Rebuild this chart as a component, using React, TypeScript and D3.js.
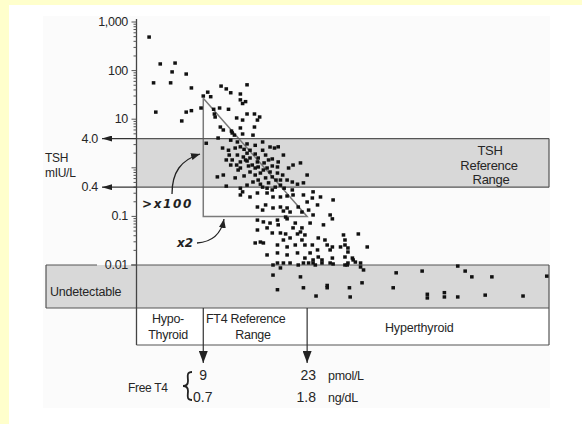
import React from 'react';
import * as d3 from 'd3';

const W = 582;
const H = 424;

// Patient values: [Free T4 (pmol/L), TSH (mIU/L)]
const pointsHigh: [number, number][] = [
  [1.7, 490], [3.2, 137], [5.2, 143], [4.8, 94], [6.7, 85], [2.3, 56], [4.6, 56], [7.4, 44],
  [2.6, 14], [6.7, 14], [7.4, 15], [6.1, 9.2], [9.0, 30], [9.6, 36], [10.0, 29], [8.7, 17],
  [11.4, 48], [12.1, 42], [12.7, 35], [14.0, 33], [14.9, 51], [14.0, 25], [14.7, 23], [14.3, 21],
  [10.4, 16], [11.2, 17], [12.4, 16], [10.5, 12.8], [10.6, 11.1], [13.5, 10.6], [14.3, 9.6],
  [14.9, 12.8], [15.9, 12.8], [16.3, 9.6], [16.6, 11.1], [11.3, 6.9], [11.7, 6.0], [12.8, 5.7],
  [14.0, 6.6], [15.9, 6.9], [13.2, 4.7], [12.9, 5.2],
];

const pointsEuthyroid: [number, number][] = [
  [11.0, 4.1], [9.4, 3.2], [13.6, 3.4], [14.9, 3.1], [16.0, 2.9], [11.6, 2.55], [12.4, 2.3],
  [13.3, 2.55], [14.0, 2.7], [14.5, 2.4], [18.6, 2.55], [19.1, 2.7], [12.5, 1.83], [13.6, 1.83],
  [14.4, 1.67], [14.9, 2.0], [16.0, 1.92], [17.4, 1.83], [17.0, 2.3], [18.3, 1.52], [19.1, 1.32],
  [20.5, 0.99], [21.1, 1.14], [22.1, 1.26], [12.1, 1.45], [12.9, 1.45], [14.0, 1.32], [14.9, 1.38],
  [15.6, 1.14], [16.4, 1.04], [17.2, 1.26], [17.6, 0.99], [18.0, 0.82], [19.0, 0.78], [19.7, 0.71],
  [20.3, 0.56], [21.0, 0.51], [21.7, 0.46], [14.0, 0.99], [15.3, 0.82], [16.0, 0.71], [16.7, 0.78],
  [17.4, 0.62], [18.3, 0.65], [10.9, 0.65], [11.7, 0.71], [12.1, 0.42], [14.0, 0.38], [14.9, 0.44],
  [15.7, 0.51], [16.7, 0.46], [17.6, 0.38], [18.7, 0.40], [19.4, 0.44], [19.9, 0.38], [21.0, 0.35],
  [23.8, 0.32], [14.3, 4.96], [15.7, 4.7], [12.7, 3.7], [17.0, 3.4], [19.8, 1.83], [16.4, 1.59],
  [19.0, 1.04], [23.0, 0.71], [16.0, 0.99], [17.1, 0.90], [19.4, 0.56], [22.5, 0.49], [18.3, 0.35],
  [13.7, 0.90], [13.3, 0.62], [14.3, 0.32], [17.0, 0.40], [14.7, 1.45], [15.3, 1.59], [16.3, 1.32],
  [17.8, 1.45], [15.1, 1.09], [18.3, 1.09], [14.5, 0.68], [16.4, 0.56], [17.8, 0.49], [18.8, 0.56],
  [12.7, 1.14], [13.5, 1.14], [15.3, 2.3], [18.0, 2.68],
];

const pointsSuppressed: [number, number][] = [
  [14.0, 0.276], [15.3, 0.251], [16.3, 0.303], [17.6, 0.303], [18.4, 0.251], [19.4, 0.251],
  [20.3, 0.263], [21.1, 0.276], [22.5, 0.276], [16.3, 0.156], [17.4, 0.172], [18.4, 0.149],
  [19.4, 0.156], [20.3, 0.149], [21.8, 0.156], [23.0, 0.198], [24.8, 0.251], [16.3, 0.084],
  [17.1, 0.077], [18.0, 0.073], [19.0, 0.084], [20.3, 0.089], [21.4, 0.073], [23.4, 0.073],
  [25.2, 0.067], [26.1, 0.107], [23.8, 0.107], [17.6, 0.058], [21.1, 0.058], [26.5, 0.218],
  [23.7, 0.239], [23.2, 0.135], [24.4, 0.172], [26.4, 0.089], [20.7, 0.123], [22.3, 0.123],
  [19.8, 0.129], [17.0, 0.135], [20.1, 0.097], [22.3, 0.058], [19.1, 0.067],
  [16.3, 0.0525], [16.0, 0.0284], [16.7, 0.0297], [18.3, 0.0456], [19.4, 0.0456], [20.1, 0.0435],
  [21.7, 0.0435], [22.7, 0.0415], [24.5, 0.036], [25.4, 0.0327], [27.9, 0.0415], [29.9, 0.0435],
  [17.1, 0.0284], [19.0, 0.0258], [20.3, 0.0235], [21.4, 0.0258], [22.7, 0.0258], [24.4, 0.0204],
  [25.7, 0.0258], [26.4, 0.0235], [28.1, 0.0258], [28.5, 0.0224], [31.1, 0.0235], [17.6, 0.0161],
  [19.0, 0.0177], [20.3, 0.0161], [21.7, 0.0177], [22.7, 0.0139], [23.8, 0.0127], [25.0, 0.0127],
  [26.4, 0.0139], [28.1, 0.0146], [29.1, 0.0139], [19.0, 0.011], [19.8, 0.011], [20.7, 0.011],
  [21.8, 0.01], [22.5, 0.011], [23.8, 0.011], [25.0, 0.011], [26.1, 0.011], [28.5, 0.011],
  [29.5, 0.0115], [30.2, 0.0091], [30.6, 0.0079], [22.1, 0.0478], [19.8, 0.0327], [20.7, 0.036],
  [22.3, 0.0327], [23.7, 0.0258], [23.4, 0.0177], [24.5, 0.0146], [27.5, 0.0235], [26.1, 0.0204],
  [23.2, 0.011], [24.1, 0.01], [26.5, 0.0105], [28.1, 0.01], [28.1, 0.0327], [28.5, 0.0185],
  [29.2, 0.0127], [30.2, 0.011], [28.4, 0.01],
];

const pointsUndetectable: [number, number][] = [
  [18.4, 0.01], [19.4, 0.0087], [18.4, 0.0062], [19.0, 0.0031], [22.1, 0.0057], [22.5, 0.0034],
  [24.2, 0.0023], [25.7, 0.0034], [25.7, 0.0038], [28.7, 0.0034], [28.8, 0.0022], [30.4, 0.0043],
  [34.6, 0.0034], [35.0, 0.0069], [38.5, 0.0075], [39.2, 0.0025], [39.2, 0.0021], [41.5, 0.0027],
  [41.5, 0.0022], [43.3, 0.0095], [44.3, 0.0075], [45.2, 0.0057], [43.3, 0.0022], [47.0, 0.0024],
  [47.9, 0.0057], [52.1, 0.0023], [55.3, 0.0059],
];

const tshTicks = [1000, 100, 10, 0.1, 0.01];
const tshTickLabels = ['1,000', '100', '10', '0.1', '0.01'];
const tshReference = [0.4, 4.0];
const tshReferenceLabels = ['0.4', '4.0'];
const ft4Reference = [9, 23];
const ft4ReferenceNgdl = ['0.7', '1.8'];
const triangleFt4 = [9, 23];
const triangleTsh = [27, 0.1];

const FONT = '"Liberation Sans", Arial, Helvetica, sans-serif';
const INK = '#262626';

export default function App() {
  const x = d3.scaleLinear().domain([0, 55.6]).range([136.5, 549]);
  const y = d3.scaleLog().domain([0.01, 1000]).range([265, 22]);

  const axisX = x(0);
  const right = x(55.6);
  const undetTop = y(0.01);
  const undetBottom = 308;
  const boxBottom = 345;
  const undetLeft = 46;
  const allTicks = y.ticks();

  const points = [...pointsHigh, ...pointsEuthyroid, ...pointsSuppressed, ...pointsUndetectable];

  const [tshLo, tshHi] = tshReference;
  const triPath = d3.line()([
    [x(triangleFt4[0]), y(triangleTsh[0])],
    [x(triangleFt4[0]), y(triangleTsh[1])],
    [x(triangleFt4[1]), y(triangleTsh[1])],
    [x(triangleFt4[0]), y(triangleTsh[0])],
  ]);

  return (
    <div style={{ position: 'absolute', left: 0, top: 0 }}>
      <svg width={W} height={H} style={{ display: 'block' }} fontFamily={FONT}>
        <defs>
          <marker id="arrowLeft" viewBox="0 0 10 6" refX="10" refY="3" markerWidth="10" markerHeight="6"
            markerUnits="userSpaceOnUse" orient="auto">
            <path d="M0,0L10,3L0,6z" fill="#222" />
          </marker>
          <marker id="arrowDown" viewBox="0 0 12 9" refX="12" refY="4.5" markerWidth="12" markerHeight="9"
            markerUnits="userSpaceOnUse" orient="auto">
            <path d="M0,0L12,4.5L0,9z" fill="#222" />
          </marker>
          <marker id="arrowSmall" viewBox="0 0 9 7" refX="9" refY="3.5" markerWidth="9" markerHeight="7"
            markerUnits="userSpaceOnUse" orient="auto">
            <path d="M0,0L9,3.5L0,7z" fill="#222" />
          </marker>
        </defs>

        {/* page background */}
        <rect x={0} y={0} width={W} height={H} fill="#ffffcc" />
        <rect x={9} y={5} width={W - 9} height={H - 5} fill="#ffffff" />
        <rect x={43} y={16} width={507} height={392} fill="#fbfbfb" />

        {/* TSH reference band */}
        <rect x={axisX} y={y(tshHi)} width={right - axisX} height={y(tshLo) - y(tshHi)} fill="#d8d8d8" />
        {/* undetectable band */}
        <rect x={undetLeft} y={undetTop} width={right - undetLeft} height={undetBottom - undetTop} fill="#d8d8d8" />
        {/* lower classification box */}
        <rect x={axisX} y={undetBottom} width={right - axisX} height={boxBottom - undetBottom} fill="#ffffff" />

        {/* slope triangle */}
        <path d={triPath ?? ''} fill="none" stroke="#7a7a7a" strokeWidth={1.5} />

        {/* band borders */}
        {tshReference.map((v) => (
          <line key={`b${v}`} x1={axisX} x2={right} y1={y(v)} y2={y(v)} stroke="#555" strokeWidth={1.2} />
        ))}
        <line x1={undetLeft} x2={97} y1={undetTop} y2={undetTop} stroke="#555" strokeWidth={1.2} />
        <line x1={131} x2={right} y1={undetTop} y2={undetTop} stroke="#555" strokeWidth={1.2} />
        <line x1={undetLeft} x2={undetLeft} y1={undetTop} y2={undetBottom} stroke="#555" strokeWidth={1.2} />
        <line x1={undetLeft} x2={right} y1={undetBottom} y2={undetBottom} stroke="#555" strokeWidth={1.2} />
        <line x1={right} x2={right} y1={y(tshHi)} y2={y(tshLo)} stroke="#555" strokeWidth={1.2} />
        <line x1={right} x2={right} y1={undetTop} y2={boxBottom} stroke="#555" strokeWidth={1.2} />
        <line x1={axisX} x2={right} y1={boxBottom} y2={boxBottom} stroke="#555" strokeWidth={1.2} />

        {/* y axis */}
        <line x1={axisX} x2={axisX} y1={19} y2={boxBottom} stroke="#444" strokeWidth={1.3} />
        {allTicks.map((t, i) => {
          const major = Math.abs(Math.log10(t) - Math.round(Math.log10(t))) < 1e-9;
          return (
            <line key={`t${i}`} x1={axisX - (major ? 5 : 3)} x2={axisX} y1={y(t)} y2={y(t)}
              stroke="#555" strokeWidth={1} />
          );
        })}
        {tshTicks.map((t, i) => (
          <text key={`l${t}`} x={128} y={y(t)} textAnchor="end" dominantBaseline="central"
            fontSize={12.5} fill={INK} letterSpacing={-0.3}>{tshTickLabels[i]}</text>
        ))}

        {/* reference limit arrows */}
        {tshReference.map((v, i) => (
          <g key={`r${v}`}>
            <line x1={axisX} x2={102} y1={y(v)} y2={y(v)} stroke="#333" strokeWidth={1.2}
              markerEnd="url(#arrowLeft)" />
            <text x={98} y={y(v)} textAnchor="end" dominantBaseline="central" fontSize={12.5}
              fill={INK} letterSpacing={-0.3}>{tshReferenceLabels[i]}</text>
          </g>
        ))}

        {/* FT4 reference limits */}
        {ft4Reference.map((v) => (
          <line key={`f${v}`} x1={x(v)} x2={x(v)} y1={undetBottom} y2={363} stroke="#333" strokeWidth={1.2}
            markerEnd="url(#arrowDown)" />
        ))}

        {/* patient points */}
        {points.map(([f, t], i) => (
          <rect key={`p${i}`} x={x(f) - 1.8} y={y(t) - 1.7} width={3.6} height={3.4} fill="#111" />
        ))}

        {/* curved annotation arrows */}
        <path d="M172,194 C172,172 181,160 200,154" fill="none" stroke="#222" strokeWidth={1.3}
          markerEnd="url(#arrowSmall)" />
        <path d="M197,243 C211,242 221,235 224,219" fill="none" stroke="#222" strokeWidth={1.3}
          markerEnd="url(#arrowSmall)" />
        <text x={142} y={208} fontSize={12} fontWeight="bold" fontStyle="italic" fill="#222"
          fontFamily='"DejaVu Sans", sans-serif' letterSpacing={1.6}>&gt;x100</text>
        <text x={177} y={247} fontSize={12} fontWeight="bold" fontStyle="italic" fill="#222"
          fontFamily='"DejaVu Sans", sans-serif'>x2</text>

        {/* axis title */}
        <text x={45} y={162} fontSize={12} fill={INK} letterSpacing={-0.3}>TSH</text>
        <text x={45} y={177} fontSize={12} fill={INK} letterSpacing={-0.3}>mIU/L</text>

        {/* band labels */}
        <text x={490} y={155} textAnchor="middle" fontSize={13} fill={INK} letterSpacing={-0.3}>TSH</text>
        <text x={489} y={170} textAnchor="middle" fontSize={13} fill={INK} letterSpacing={-0.3}>Reference</text>
        <text x={491} y={184} textAnchor="middle" fontSize={13} fill={INK} letterSpacing={-0.3}>Range</text>
        <text x={50} y={296} fontSize={12.5} fill={INK} letterSpacing={-0.2}>Undetectable</text>

        {/* classification labels */}
        <text x={168} y={323} textAnchor="middle" fontSize={12.5} fill={INK} letterSpacing={-0.3}>Hypo-</text>
        <text x={168} y={339} textAnchor="middle" fontSize={12.5} fill={INK} letterSpacing={-0.3}>Thyroid</text>
        <text x={206} y={323} fontSize={12.5} fill={INK} letterSpacing={-0.3}>FT4 Reference</text>
        <text x={253} y={339} textAnchor="middle" fontSize={12.5} fill={INK} letterSpacing={-0.3}>Range</text>
        <text x={385} y={332} fontSize={12.5} fill={INK} letterSpacing={-0.2}>Hyperthyroid</text>

        {/* Free T4 limits in both units */}
        <text x={128} y={392} fontSize={12} fill={INK} letterSpacing={-0.3}>Free T4</text>
        <path d="M192,372 C186,372 188,377 188,381 C188,384 186,386 183,386 C186,386 188,388 188,391 C188,395 186,400 192,400"
          fill="none" stroke="#222" strokeWidth={1.8} />
        <text x={x(ft4Reference[0])} y={380} textAnchor="middle" fontSize={14} fill={INK}>{ft4Reference[0]}</text>
        <text x={193} y={402} fontSize={14} fill={INK}>{ft4ReferenceNgdl[0]}</text>
        <text x={316} y={380} textAnchor="end" fontSize={14} fill={INK}>{ft4Reference[1]}</text>
        <text x={316} y={402} textAnchor="end" fontSize={14} fill={INK}>{ft4ReferenceNgdl[1]}</text>
        <text x={328} y={380} fontSize={12.5} fill={INK} letterSpacing={-0.3}>pmol/L</text>
        <text x={328} y={402} fontSize={12.5} fill={INK} letterSpacing={-0.3}>ng/dL</text>
      </svg>
    </div>
  );
}
